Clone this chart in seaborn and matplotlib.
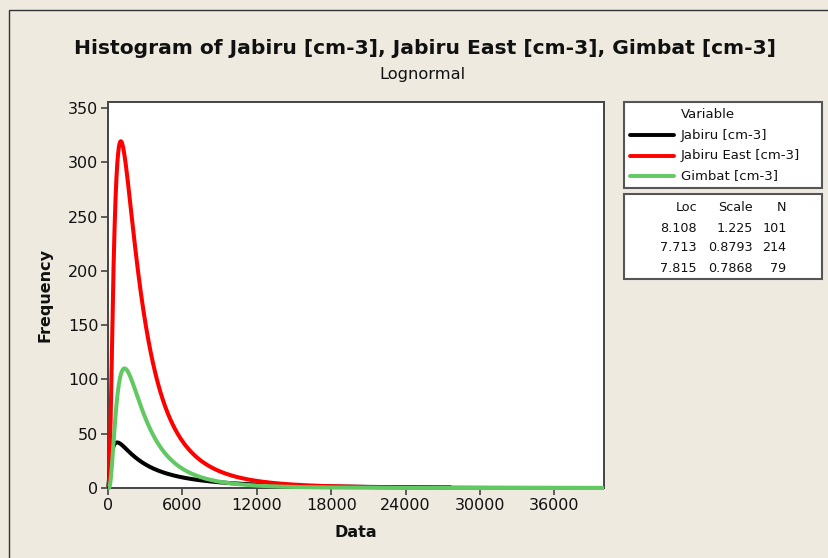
import numpy as np
import pandas as pd
import seaborn as sns
import matplotlib
matplotlib.use("Agg")
import matplotlib.pyplot as plt
from matplotlib.patches import Rectangle
from matplotlib.lines import Line2D

# ---- data (fitted lognormal parameters as shown in the chart) ----
variables = ["Jabiru [cm-3]", "Jabiru East [cm-3]", "Gimbat [cm-3]"]
loc = [8.108, 7.713, 7.815]
scale = [1.225, 0.8793, 0.7868]
n_obs = [101, 214, 79]
bin_width = [2000, 5000, 5000]
x_end = [27700, 40000, 40000]
colors = ["#000000", "#FF0000", "#62C962"]
x_ticks = [0, 6000, 12000, 18000, 24000, 30000, 36000]
y_ticks = [0, 50, 100, 150, 200, 250, 300, 350]

title = "Histogram of Jabiru [cm-3], Jabiru East [cm-3], Gimbat [cm-3]"
subtitle = "Lognormal"

rows = []
for v, mu, s, n, bw, xe in zip(variables, loc, scale, n_obs, bin_width, x_end):
    xs = np.unique(np.concatenate([np.linspace(1, 6000, 600), np.linspace(6000, xe, 800)]))
    pdf = np.exp(-(np.log(xs) - mu) ** 2 / (2 * s ** 2)) / (xs * s * np.sqrt(2 * np.pi))
    for xv, yv in zip(xs, pdf * n * bw):
        rows.append((v, xv, yv))
df = pd.DataFrame(rows, columns=["Variable", "Data", "Frequency"])

BG = "#EEEAE0"
sns.set_theme(style="white")
plt.rcParams["font.family"] = ["DejaVu Sans"]

W, H = 829, 558
fig = plt.figure(figsize=(W / 100, H / 100), dpi=100, facecolor=BG)

def fx(px):
    return px / W

def fy(py):
    return 1 - py / H

ax = fig.add_axes([fx(108), fy(488), fx(604) - fx(108), fy(101.5) - fy(488)])
ax.set_facecolor("white")

sns.lineplot(data=df, x="Data", y="Frequency", hue="Variable", hue_order=variables,
             palette=colors, linewidth=2.9, legend=False, ax=ax, sort=False,
             estimator=None)
for ln in ax.lines:
    ln.set_zorder(3)
    ln.set_clip_on(False)
    ln.set_solid_capstyle("butt")

ax.set_xlim(0, 40000)
ax.set_ylim(0, 356)
ax.set_xticks(x_ticks)
ax.set_yticks(y_ticks)
ax.set_xticklabels([str(t) for t in x_ticks])
ax.set_yticklabels([str(t) for t in y_ticks])
ax.tick_params(axis="both", direction="out", length=5, width=1.2, color="#444444",
               labelsize=11.5, labelcolor="#111111", pad=2, bottom=True, left=True)
for sp in ax.spines.values():
    sp.set_color("#444444")
    sp.set_linewidth(1.4)
ax.set_xlabel("Data", fontsize=11.5, fontweight="bold", color="#111111", labelpad=9)
ax.set_ylabel("Frequency", fontsize=11.5, fontweight="bold", color="#111111", labelpad=11)

# titles
fig.text(fx(425), fy(48), title, ha="center", va="center", fontsize=14.6,
         fontweight="bold", color="#111111")
fig.text(fx(422), fy(75), subtitle, ha="center", va="center", fontsize=11.7,
         color="#111111")

# figure frame line
fig.patches.append(Rectangle((fx(9), fy(600)), fx(900), fy(10) - fy(600),
                             transform=fig.transFigure, fill=False,
                             edgecolor="#333333", linewidth=1.0))

# legend box
fig.patches.append(Rectangle((fx(623.5), fy(188.3)), fx(822.3) - fx(623.5),
                             fy(101.7) - fy(188.3), transform=fig.transFigure,
                             facecolor="white", edgecolor="#555555", linewidth=1.5))
fig.text(fx(681), fy(114), "Variable", ha="left", va="center", fontsize=9.5, color="#111111")
for i, (v, c) in enumerate(zip(variables, colors)):
    yy = fy(135 + 20.5 * i)
    fig.lines.append(Line2D([fx(630), fx(674)], [yy, yy], transform=fig.transFigure,
                            color=c, linewidth=2.8))
    fig.text(fx(681), yy, v, ha="left", va="center", fontsize=9.5, color="#111111")

# stats table box
fig.patches.append(Rectangle((fx(623.5), fy(279.3)), fx(822.3) - fx(623.5),
                             fy(194) - fy(279.3), transform=fig.transFigure,
                             facecolor="white", edgecolor="#555555", linewidth=1.5))
fig.text(fx(697), fy(207.5), "Loc", ha="right", va="center", fontsize=9.2, color="#111111")
fig.text(fx(753), fy(207.5), "Scale", ha="right", va="center", fontsize=9.2, color="#111111")
fig.text(fx(786.5), fy(207.5), "N", ha="right", va="center", fontsize=9.2, color="#111111")
row_y = [228, 247.5, 268]
for yy, l, s, n in zip(row_y, loc, scale, n_obs):
    fig.text(fx(697), fy(yy), f"{l:.3f}", ha="right", va="center", fontsize=9.2, color="#111111")
    fig.text(fx(753), fy(yy), f"{s:g}", ha="right", va="center", fontsize=9.2, color="#111111")
    fig.text(fx(786.5), fy(yy), f"{n}", ha="right", va="center", fontsize=9.2, color="#111111")

fig.savefig("out.png", dpi=100, facecolor=BG)
